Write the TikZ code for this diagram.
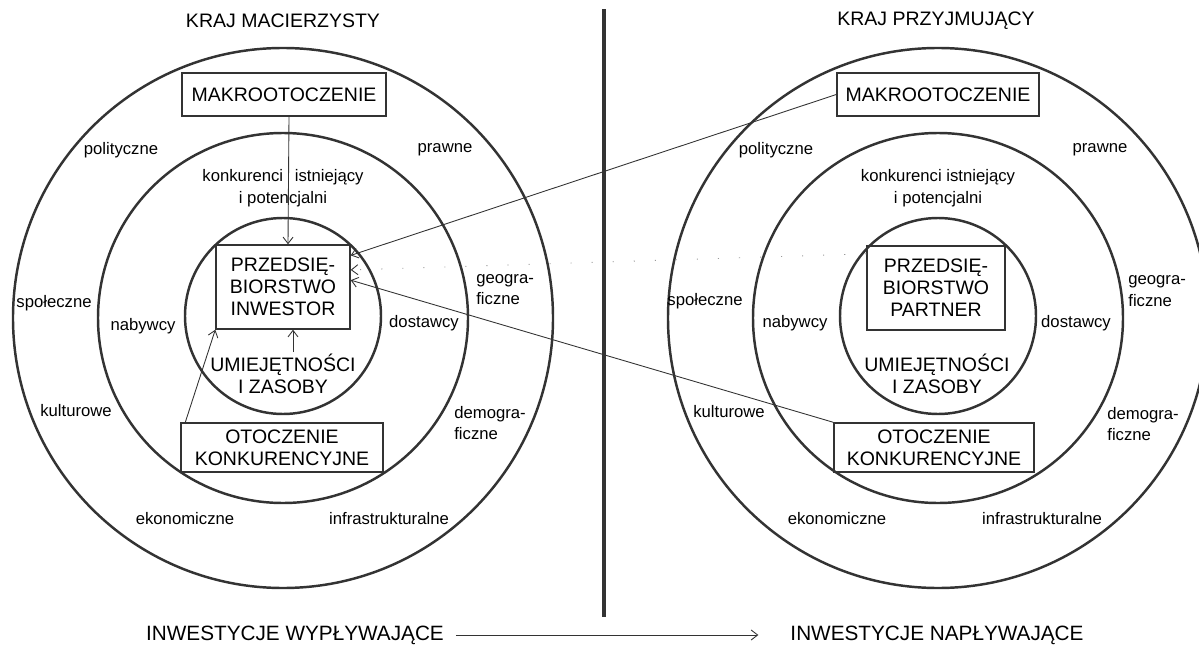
\documentclass[tikz,border=0pt]{standalone}
\usepackage{fontspec}
\setmainfont{Liberation Sans}
\usetikzlibrary{positioning,arrows.meta,calc}
\definecolor{ink}{gray}{0.2}
\newcommand{\lblfont}{\fontsize{9.5}{12.3}\selectfont}
\newcommand{\capfont}{\fontsize{11.1}{12.5}\selectfont}
\newcommand{\flowfont}{\fontsize{11.8}{14}\selectfont}

\begin{document}
\begin{tikzpicture}[x=0.2mm, y=-0.2mm,
  ring/.style={circle, draw=ink, line width=1.4pt, inner sep=0pt},
  box/.style={draw=ink, line width=0.8pt, font=\capfont, align=center, inner sep=0pt},
  head/.style={font=\capfont, align=center, inner sep=1pt},
  lbl/.style={font=\lblfont, align=center, inner sep=1pt},
  lblw/.style={font=\lblfont, align=left, anchor=west, inner sep=0pt},
  conn/.style={draw=ink, line width=0.5pt, -{Straight Barb[length=1.3mm, width=2mm]}},
  faint/.style={draw=black!40, line width=0.5pt, dash pattern=on 0.6pt off 4mm, -{Straight Barb[length=1.3mm, width=2mm, color=ink]}},
  divider/.style={draw=ink, line width=2.8pt}
]
\useasboundingbox (0,0) rectangle (1199,659);

% kraj macierzysty
\node[ring, minimum size=108mm] (outL) at (283,318) {};
\node[ring, minimum size=74mm] (midL) at (283,318) {};
\node[ring, minimum size=39.2mm] (inL) at (283,316) {};
\node[head] (homeL) at (283,21) {KRAJ MACIERZYSTY};
\node[box, minimum width=40.8mm, minimum height=8.6mm] (makroL) at (284,94.5) {MAKROOTOCZENIE};
\node[box, minimum width=26.8mm, minimum height=16.8mm] (inwL) at (283,287) {PRZEDSIĘ-\\BIORSTWO\\INWESTOR};
\node[head] (umiejL) at (283,374) {UMIEJĘTNOŚCI\\I ZASOBY};
\node[box, minimum width=40.4mm, minimum height=9.8mm] (otoczL) at (282,447.5) {OTOCZENIE\\KONKURENCYJNE};
\node[lbl] (politL) at (121,150) {polityczne};
\node[lbl] (prawL) at (445,150) {prawne};
\node[lbl] (konkL) at (283,188) {konkurenci\hspace{0.7em}istniejący\\i potencjalni};
\node[lbl] (spolL) at (54,303) {społeczne};
\node[lbl] (nabL) at (143,326) {nabywcy};
\node[lbl] (dostL) at (424,323) {dostawcy};
\node[lblw] (geoL) at (476,289.5) {geogra-\\ficzne};
\node[lbl] (kultL) at (76,411) {kulturowe};
\node[lblw] (demoL) at (454,423) {demogra-\\ficzne};
\node[lbl] (ekonL) at (185,519) {ekonomiczne};
\node[lbl] (infraL) at (389,519) {infrastrukturalne};

% kraj przyjmujacy
\node[ring, minimum size=108mm] (outR) at (938,318) {};
\node[ring, minimum size=74mm] (midR) at (938,318) {};
\node[ring, minimum size=39.2mm] (inR) at (938,316) {};
\node[head] (homeR) at (936,21) {KRAJ PRZYJMUJĄCY};
\node[box, minimum width=40.4mm, minimum height=8.6mm] (makroR) at (938,94.5) {MAKROOTOCZENIE};
\node[box, minimum width=27.6mm, minimum height=16.8mm] (partR) at (936,288) {PRZEDSIĘ-\\BIORSTWO\\PARTNER};
\node[head] (umiejR) at (937,374) {UMIEJĘTNOŚCI\\I ZASOBY};
\node[box, minimum width=40mm, minimum height=9.8mm] (otoczR) at (934,447.5) {OTOCZENIE\\KONKURENCYJNE};
\node[lbl] (politR) at (776,150) {polityczne};
\node[lbl] (prawR) at (1100,150) {prawne};
\node[lbl] (konkR) at (938,188) {konkurenci istniejący\\i potencjalni};
\node[lbl] (spolR) at (705,301) {społeczne};
\node[lbl] (nabR) at (795,323) {nabywcy};
\node[lbl] (dostR) at (1076,323) {dostawcy};
\node[lblw] (geoR) at (1128,291) {geogra-\\ficzne};
\node[lbl] (kultR) at (729,412) {kulturowe};
\node[lblw] (demoR) at (1107,424) {demogra-\\ficzne};
\node[lbl] (ekonR) at (837,519) {ekonomiczne};
\node[lbl] (infraR) at (1042,519) {infrastrukturalne};

% granica
\coordinate (divtop) at (604,9);
\coordinate (divbot) at (604,617);
\draw[divider] (divtop) -- (divbot);

% powiazania
\draw[conn] ([xshift=1mm]makroL.south) -- ([xshift=1mm]inwL.north);
\draw[conn] ([xshift=2mm]umiejL.north) -- ([xshift=2mm]inwL.south);
\draw[conn] ([xshift=1mm]otoczL.north west) -- (inwL.south west);
\draw[conn] (makroR.west) -- ($(inwL.north east)!0.13!(inwL.south east)$);
\draw[faint] ($(partR.north west)!0.1!(partR.south west)$) -- ($(inwL.north east)!0.3!(inwL.south east)$);
\draw[conn] (otoczR.north west) -- ($(inwL.north east)!0.42!(inwL.south east)$);

% przeplywy
\node[head, font=\flowfont] (outflow) at (295,635) {INWESTYCJE WYPŁYWAJĄCE};
\node[head, font=\flowfont] (inflow) at (937,635) {INWESTYCJE NAPŁYWAJĄCE};
\draw[conn] ([xshift=2mm]outflow.east) -- ([xshift=-6mm]inflow.west);

\end{tikzpicture}
\end{document}
